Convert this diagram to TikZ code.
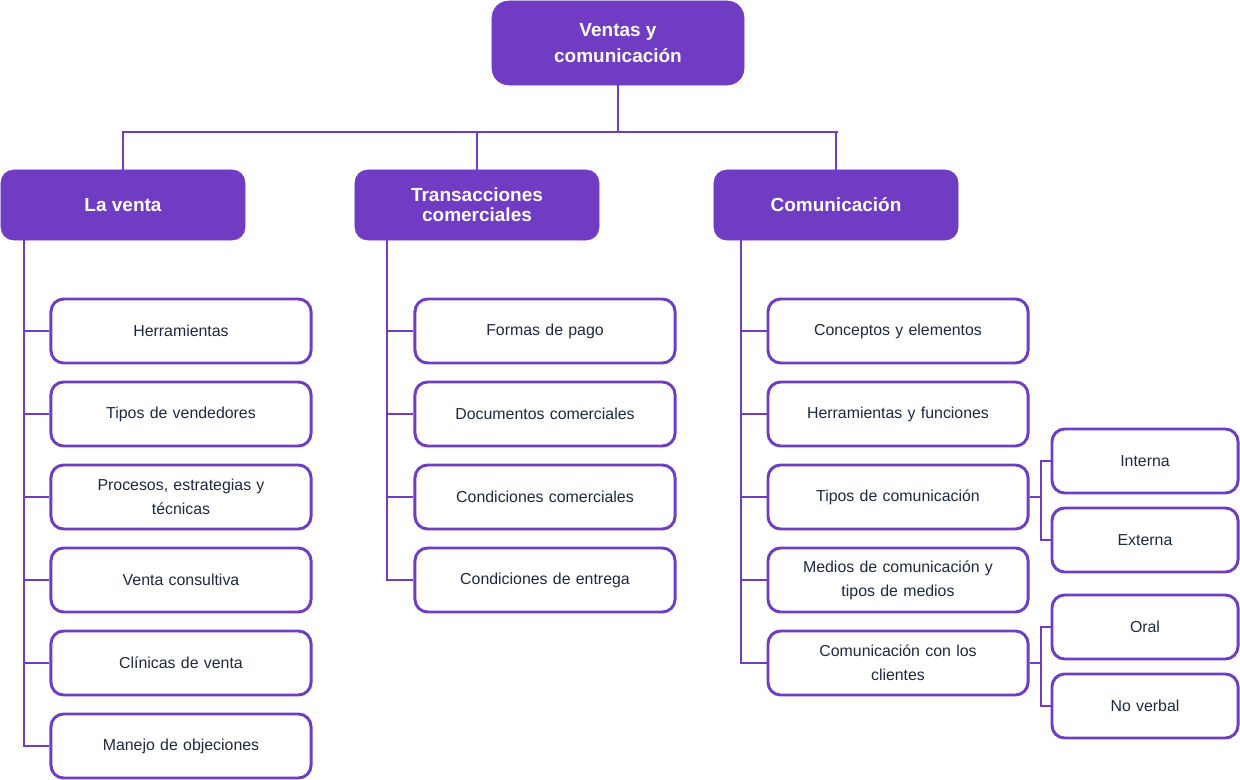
\documentclass[tikz,border=0pt]{standalone}
\usepackage{fontspec}
\setmainfont{Liberation Sans}
\usetikzlibrary{positioning}
\definecolor{morado}{HTML}{6F3CC3}
\definecolor{textoosc}{HTML}{1E2940}
\tikzset{
  raiz/.style={draw=morado, fill=morado, rounded corners=12pt, text=white,
    font=\fontsize{13.5}{18.5}\selectfont\bfseries, align=center,
    minimum width=6.3cm, minimum height=2.1cm, inner sep=0pt},
  tema/.style={draw=morado, fill=morado, rounded corners=9pt, text=white,
    font=\fontsize{13.5}{14}\selectfont\bfseries, align=center,
    minimum width=6.1cm, minimum height=1.75cm, inner sep=0pt},
  subtema/.style={draw=morado, line width=2.1pt, fill=white, rounded corners=9pt,
    text=textoosc, font=\fontsize{11.3}{17}\selectfont, align=center,
    text width=6.0cm, minimum width=6.5cm, minimum height=1.6cm, inner sep=0pt},
  hoja/.style={subtema, text width=4.4cm, minimum width=4.65cm},
  enlace/.style={draw=morado, line width=2.1pt}
}
\begin{document}
\begin{tikzpicture}[x=0.025cm, y=-0.025cm]
\useasboundingbox (0,0) rectangle (1240,780);
% raiz y temas
\node[raiz] (root) at (618,43) {Ventas y\\comunicación};
\node[tema] (venta) at (123,205) {La venta};
\node[tema] (trans) at (477,205) {Transacciones\\comerciales};
\node[tema] (comu) at (836,205) {Comunicación};
\coordinate (busL) at (122,132);
\coordinate (busR) at (838,132);
\draw[enlace] (busL) -- (busR);
\draw[enlace] (root.south) -- (root.south |- busL);
\draw[enlace] (venta.north) -- (venta.north |- busL);
\draw[enlace] (trans.north) -- (trans.north |- busL);
\draw[enlace] (comu.north) -- (comu.north |- busL);
% La venta
\node[subtema] (v1) at (181,331) {Herramientas};
\node[subtema] (v2) at (181,414) {Tipos de vendedores};
\node[subtema] (v3) at (181,497) {Procesos, estrategias y\\técnicas};
\node[subtema] (v4) at (181,580) {Venta consultiva};
\node[subtema] (v5) at (181,663) {Clínicas de venta};
\node[subtema] (v6) at (181,746) {Manejo de objeciones};
\coordinate (vspine) at (24,240);
\draw[enlace] (vspine) |- (v6.west);
\foreach \n in {v1,v2,v3,v4,v5}
  \draw[enlace] (\n.west -| vspine) -- (\n.west);
% Transacciones comerciales
\node[subtema] (t1) at (545,331) {Formas de pago};
\node[subtema] (t2) at (545,414) {Documentos comerciales};
\node[subtema] (t3) at (545,497) {Condiciones comerciales};
\node[subtema] (t4) at (545,580) {Condiciones de entrega};
\coordinate (tspine) at (387,240);
\draw[enlace] (tspine) |- (t4.west);
\foreach \n in {t1,t2,t3}
  \draw[enlace] (\n.west -| tspine) -- (\n.west);
% Comunicación
\node[subtema] (c1) at (898,331) {Conceptos y elementos};
\node[subtema] (c2) at (898,414) {Herramientas y funciones};
\node[subtema] (c3) at (898,497) {Tipos de comunicación};
\node[subtema] (c4) at (898,580) {Medios de comunicación y\\tipos de medios};
\node[subtema] (c5) at (898,663) {Comunicación con los\\clientes};
\coordinate (cspine) at (741,240);
\draw[enlace] (cspine) |- (c5.west);
\foreach \n in {c1,c2,c3,c4}
  \draw[enlace] (\n.west -| cspine) -- (\n.west);
% tipos y clientes
\node[hoja] (interna) at (1145,461) {Interna};
\node[hoja] (externa) at (1145,540) {Externa};
\node[hoja] (oral) at (1145,627) {Oral};
\node[hoja] (noverbal) at (1145,706) {No verbal};
\coordinate (tipos) at (1041,497);
\coordinate (clientes) at (1041,663);
\draw[enlace] (c3.east) -- (tipos);
\draw[enlace] (interna.west) -| (tipos) |- (externa.west);
\draw[enlace] (c5.east) -- (clientes);
\draw[enlace] (oral.west) -| (clientes) |- (noverbal.west);
\end{tikzpicture}
\end{document}
